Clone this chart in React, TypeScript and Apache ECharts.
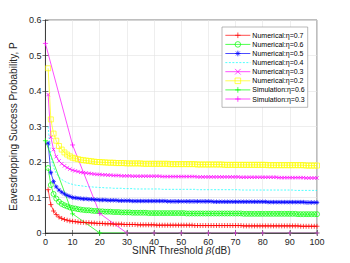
import React, { useEffect, useRef } from "react";
import * as echarts from "echarts";

const beta: number[] = Array.from({ length: 100 }, (_, i) => i + 1);
const betaSim: number[] = [0, 10, 20, 30, 40, 50, 60, 70, 80, 90, 100];

const eta07: number[] = [
  0.122, 0.080, 0.062, 0.052, 0.045, 0.041, 0.038, 0.036, 0.034, 0.033,
  0.032, 0.031, 0.030, 0.030, 0.029, 0.029, 0.028, 0.028, 0.027, 0.027,
  0.027, 0.026, 0.026, 0.026, 0.025, 0.025, 0.025, 0.025, 0.024, 0.024,
  0.024, 0.024, 0.024, 0.023, 0.023, 0.023, 0.023, 0.023, 0.023, 0.023,
  0.022, 0.022, 0.022, 0.022, 0.022, 0.022, 0.022, 0.022, 0.022, 0.022,
  0.022, 0.022, 0.022, 0.022, 0.021, 0.021, 0.021, 0.021, 0.021, 0.021,
  0.021, 0.021, 0.021, 0.021, 0.021, 0.021, 0.021, 0.021, 0.021, 0.021,
  0.021, 0.021, 0.020, 0.020, 0.020, 0.020, 0.020, 0.020, 0.020, 0.020,
  0.020, 0.020, 0.020, 0.020, 0.020, 0.020, 0.020, 0.020, 0.020, 0.020,
  0.020, 0.020, 0.020, 0.019, 0.019, 0.019, 0.019, 0.019, 0.019, 0.019,
];
const eta06: number[] = [
  0.183, 0.135, 0.110, 0.097, 0.088, 0.082, 0.078, 0.075, 0.072, 0.070,
  0.069, 0.067, 0.066, 0.065, 0.064, 0.064, 0.063, 0.062, 0.062, 0.061,
  0.061, 0.060, 0.060, 0.060, 0.059, 0.059, 0.059, 0.058, 0.058, 0.058,
  0.058, 0.057, 0.057, 0.057, 0.057, 0.057, 0.057, 0.056, 0.056, 0.056,
  0.056, 0.056, 0.056, 0.056, 0.056, 0.056, 0.056, 0.056, 0.056, 0.056,
  0.056, 0.055, 0.055, 0.055, 0.055, 0.055, 0.055, 0.055, 0.055, 0.055,
  0.055, 0.055, 0.055, 0.055, 0.055, 0.055, 0.055, 0.055, 0.055, 0.055,
  0.055, 0.055, 0.054, 0.054, 0.054, 0.054, 0.054, 0.054, 0.054, 0.054,
  0.054, 0.054, 0.054, 0.054, 0.054, 0.054, 0.054, 0.054, 0.054, 0.054,
  0.054, 0.054, 0.053, 0.053, 0.053, 0.053, 0.053, 0.053, 0.053, 0.053,
];
const eta05: number[] = [
  0.253, 0.170, 0.145, 0.130, 0.121, 0.115, 0.110, 0.106, 0.103, 0.100,
  0.099, 0.098, 0.097, 0.096, 0.096, 0.095, 0.095, 0.094, 0.094, 0.093,
  0.093, 0.093, 0.092, 0.092, 0.092, 0.092, 0.091, 0.091, 0.091, 0.091,
  0.091, 0.090, 0.090, 0.090, 0.090, 0.090, 0.090, 0.090, 0.090, 0.090,
  0.090, 0.090, 0.090, 0.090, 0.089, 0.089, 0.089, 0.089, 0.089, 0.089,
  0.089, 0.089, 0.089, 0.089, 0.089, 0.089, 0.089, 0.089, 0.089, 0.089,
  0.089, 0.088, 0.088, 0.088, 0.088, 0.088, 0.088, 0.088, 0.088, 0.088,
  0.088, 0.088, 0.088, 0.088, 0.088, 0.088, 0.088, 0.088, 0.088, 0.088,
  0.088, 0.087, 0.087, 0.087, 0.087, 0.087, 0.087, 0.087, 0.087, 0.087,
  0.087, 0.087, 0.087, 0.087, 0.087, 0.086, 0.086, 0.086, 0.086, 0.086,
];
const eta04: number[] = [
  0.300, 0.215, 0.185, 0.168, 0.158, 0.151, 0.146, 0.142, 0.139, 0.137,
  0.135, 0.134, 0.133, 0.132, 0.131, 0.130, 0.130, 0.129, 0.129, 0.128,
  0.128, 0.127, 0.127, 0.127, 0.126, 0.126, 0.126, 0.126, 0.125, 0.125,
  0.125, 0.125, 0.124, 0.124, 0.124, 0.124, 0.124, 0.124, 0.124, 0.124,
  0.124, 0.124, 0.123, 0.123, 0.123, 0.123, 0.123, 0.123, 0.123, 0.123,
  0.123, 0.123, 0.123, 0.123, 0.123, 0.122, 0.122, 0.122, 0.122, 0.122,
  0.122, 0.122, 0.122, 0.122, 0.122, 0.122, 0.122, 0.122, 0.122, 0.122,
  0.122, 0.121, 0.121, 0.121, 0.121, 0.121, 0.121, 0.121, 0.121, 0.121,
  0.121, 0.121, 0.121, 0.121, 0.121, 0.121, 0.121, 0.121, 0.121, 0.121,
  0.121, 0.120, 0.120, 0.120, 0.120, 0.120, 0.120, 0.120, 0.120, 0.120,
];
const eta03: number[] = [
  0.390, 0.270, 0.235, 0.215, 0.203, 0.195, 0.189, 0.184, 0.180, 0.177,
  0.175, 0.173, 0.171, 0.170, 0.169, 0.168, 0.167, 0.166, 0.165, 0.165,
  0.164, 0.164, 0.163, 0.163, 0.162, 0.162, 0.162, 0.161, 0.161, 0.161,
  0.161, 0.160, 0.160, 0.160, 0.160, 0.160, 0.160, 0.160, 0.160, 0.160,
  0.160, 0.160, 0.159, 0.159, 0.159, 0.159, 0.159, 0.159, 0.159, 0.159,
  0.159, 0.159, 0.159, 0.159, 0.159, 0.158, 0.158, 0.158, 0.158, 0.158,
  0.158, 0.158, 0.158, 0.158, 0.158, 0.158, 0.158, 0.158, 0.158, 0.158,
  0.158, 0.157, 0.157, 0.157, 0.157, 0.157, 0.157, 0.157, 0.157, 0.157,
  0.157, 0.157, 0.157, 0.157, 0.157, 0.156, 0.156, 0.156, 0.156, 0.156,
  0.156, 0.156, 0.156, 0.156, 0.156, 0.155, 0.155, 0.155, 0.155, 0.155,
];
const eta02: number[] = [
  0.464, 0.320, 0.280, 0.260, 0.245, 0.235, 0.227, 0.221, 0.216, 0.212,
  0.210, 0.208, 0.206, 0.205, 0.204, 0.203, 0.202, 0.201, 0.200, 0.200,
  0.199, 0.199, 0.198, 0.198, 0.198, 0.197, 0.197, 0.197, 0.197, 0.196,
  0.196, 0.196, 0.196, 0.196, 0.196, 0.195, 0.195, 0.195, 0.195, 0.195,
  0.195, 0.195, 0.195, 0.195, 0.195, 0.194, 0.194, 0.194, 0.194, 0.194,
  0.194, 0.194, 0.194, 0.194, 0.194, 0.193, 0.193, 0.193, 0.193, 0.193,
  0.193, 0.193, 0.193, 0.193, 0.193, 0.192, 0.192, 0.192, 0.192, 0.192,
  0.192, 0.192, 0.192, 0.192, 0.192, 0.192, 0.192, 0.192, 0.192, 0.192,
  0.192, 0.191, 0.191, 0.191, 0.191, 0.191, 0.191, 0.191, 0.191, 0.191,
  0.191, 0.191, 0.191, 0.191, 0.191, 0.190, 0.190, 0.190, 0.190, 0.190,
];
const sim06: number[] = [0.26, 0.054, 0, 0, 0, 0, 0, 0, 0, 0, 0];
const sim03: number[] = [0.534, 0.248, 0.055, 0, 0, 0, 0, 0, 0, 0, 0];

const names = [
  "Numerical:η=0.7",
  "Numerical:η=0.6",
  "Numerical:η=0.5",
  "Numerical:η=0.4",
  "Numerical:η=0.3",
  "Numerical:η=0.2",
  "Simulation:η=0.6",
  "Simulation:η=0.3",
];

const PLUS = "path://M0,5L10,5M5,0L5,10";
const CROSS = "path://M0,0L10,10M10,0L0,10";
const STAR = "path://M0,5L10,5M5,0L5,10M1.5,1.5L8.5,8.5M8.5,1.5L1.5,8.5";
const CIRCLE = "path://M10,5A5,5,0,1,1,0,5A5,5,0,1,1,10,5Z";
const SQUARE = "path://M0,0L10,0L10,10L0,10Z";

const colors = ["#ff0000", "#00ff00", "#0000ff", "#00ffff", "#ff00ff", "#ffff00", "#00ff00", "#ff00ff"];
const symbols = [PLUS, CIRCLE, STAR, "none", CROSS, SQUARE, PLUS, PLUS];
const sizes = [5, 5, 4.5, 4, 3.5, 5, 5, 5];

function pairs(xs: number[], ys: number[]) {
  return xs.map((x, i) => [x, ys[i]]);
}

function mk(i: number, xs: number[], ys: number[], lineType: any = "solid") {
  const color = colors[i];
  const symbol = symbols[i];
  return {
    name: names[i],
    type: "line",
    data: pairs(xs, ys),
    symbol,
    symbolSize: sizes[i],
    showSymbol: symbol !== "none",
    lineStyle: { color, width: 0.7, type: lineType },
    itemStyle: { color: "none", borderColor: color, borderWidth: 0.7 },
    emphasis: { disabled: true },
  };
}

export default function App() {
  const ref = useRef<HTMLDivElement>(null);
  useEffect(() => {
    if (!ref.current) return;
    const chart = echarts.init(ref.current, undefined, { renderer: "svg" });
    const axisColor = "#262626";
    const font = "Liberation Sans, Arial, Helvetica, sans-serif";
    chart.setOption({
      animation: false,
      textStyle: { fontFamily: font },
      grid: { left: 45, right: 33, top: 20, bottom: 30, show: true, borderColor: axisColor, borderWidth: 0.6 },
      legend: {
        orient: "vertical",
        left: 222,
        top: 27,
        backgroundColor: "#fff",
        borderColor: "#8c8c8c",
        borderWidth: 0.6,
        padding: [3, 3, 3, 3],
        itemWidth: 25,
        itemHeight: 7,
        itemGap: -1.5,
        textStyle: { fontSize: 7, lineHeight: 8, color: "#000", fontFamily: font, padding: [0, 0, 0, -3] },
        data: names.map((n, i) => ({
          name: n,
          itemStyle: { color: "none", borderColor: colors[i], borderWidth: 0.7, opacity: symbols[i] === "none" ? 0 : 1 },
          lineStyle: { color: colors[i], width: 0.7, type: i === 3 ? [2, 1.5] : "solid" },
        })),
      },
      xAxis: [
        {
          type: "value",
          min: 0,
          max: 100,
          interval: 10,
          name: "SINR Threshold {i|β}(dB)",
          nameLocation: "middle",
          nameMoveOverlap: false,
          nameGap: 12,
          nameTextStyle: { fontSize: 10, lineHeight: 11, color: axisColor, rich: { i: { fontStyle: "italic", fontFamily: "DejaVu Serif, serif", fontSize: 10, lineHeight: 11, color: axisColor } } },
          axisLine: { lineStyle: { color: axisColor, width: 0.6 } },
          axisTick: { inside: true, length: 3, lineStyle: { color: axisColor, width: 0.6 } },
          axisLabel: { fontSize: 9, color: axisColor, margin: 4 },
          splitLine: { show: true, lineStyle: { color: "#e3e3e3", width: 0.6 } },
        },
        {
          type: "value",
          position: "top",
          min: 0,
          max: 100,
          interval: 10,
          axisLine: { show: true, lineStyle: { color: axisColor, width: 0.6 } },
          axisTick: { show: true, inside: true, length: 3, lineStyle: { color: axisColor, width: 0.6 } },
          axisLabel: { show: false },
          splitLine: { show: false },
        },
      ],
      yAxis: [
        {
          type: "value",
          min: 0,
          max: 0.6,
          interval: 0.1,
          name: "Eavesdropping Success Probability, P",
          nameLocation: "middle",
          nameGap: 27,
          nameTextStyle: { fontSize: 10, color: axisColor },
          axisLine: { show: true, lineStyle: { color: axisColor, width: 0.6 } },
          axisTick: { show: true, inside: true, length: 3, lineStyle: { color: axisColor, width: 0.6 } },
          axisLabel: { fontSize: 9, color: axisColor, margin: 4, formatter: (v: number) => String(Math.round(v * 10) / 10) },
          splitLine: { show: true, lineStyle: { color: "#e3e3e3", width: 0.6 } },
        },
        {
          type: "value",
          position: "right",
          min: 0,
          max: 0.6,
          interval: 0.1,
          axisLine: { show: true, lineStyle: { color: axisColor, width: 0.6 } },
          axisTick: { show: true, inside: true, length: 3, lineStyle: { color: axisColor, width: 0.6 } },
          axisLabel: { show: false },
          splitLine: { show: false },
        },
      ],
      series: [
        mk(0, beta, eta07),
        mk(1, beta, eta06),
        mk(2, beta, eta05),
        mk(3, beta, eta04, [2, 1.5]),
        mk(4, beta, eta03),
        mk(5, beta, eta02),
        mk(6, betaSim, sim06),
        mk(7, betaSim, sim03),
      ],
    });
    return () => chart.dispose();
  }, []);
  return <div ref={ref} style={{ width: 350, height: 263, margin: -8 }} />;
}
